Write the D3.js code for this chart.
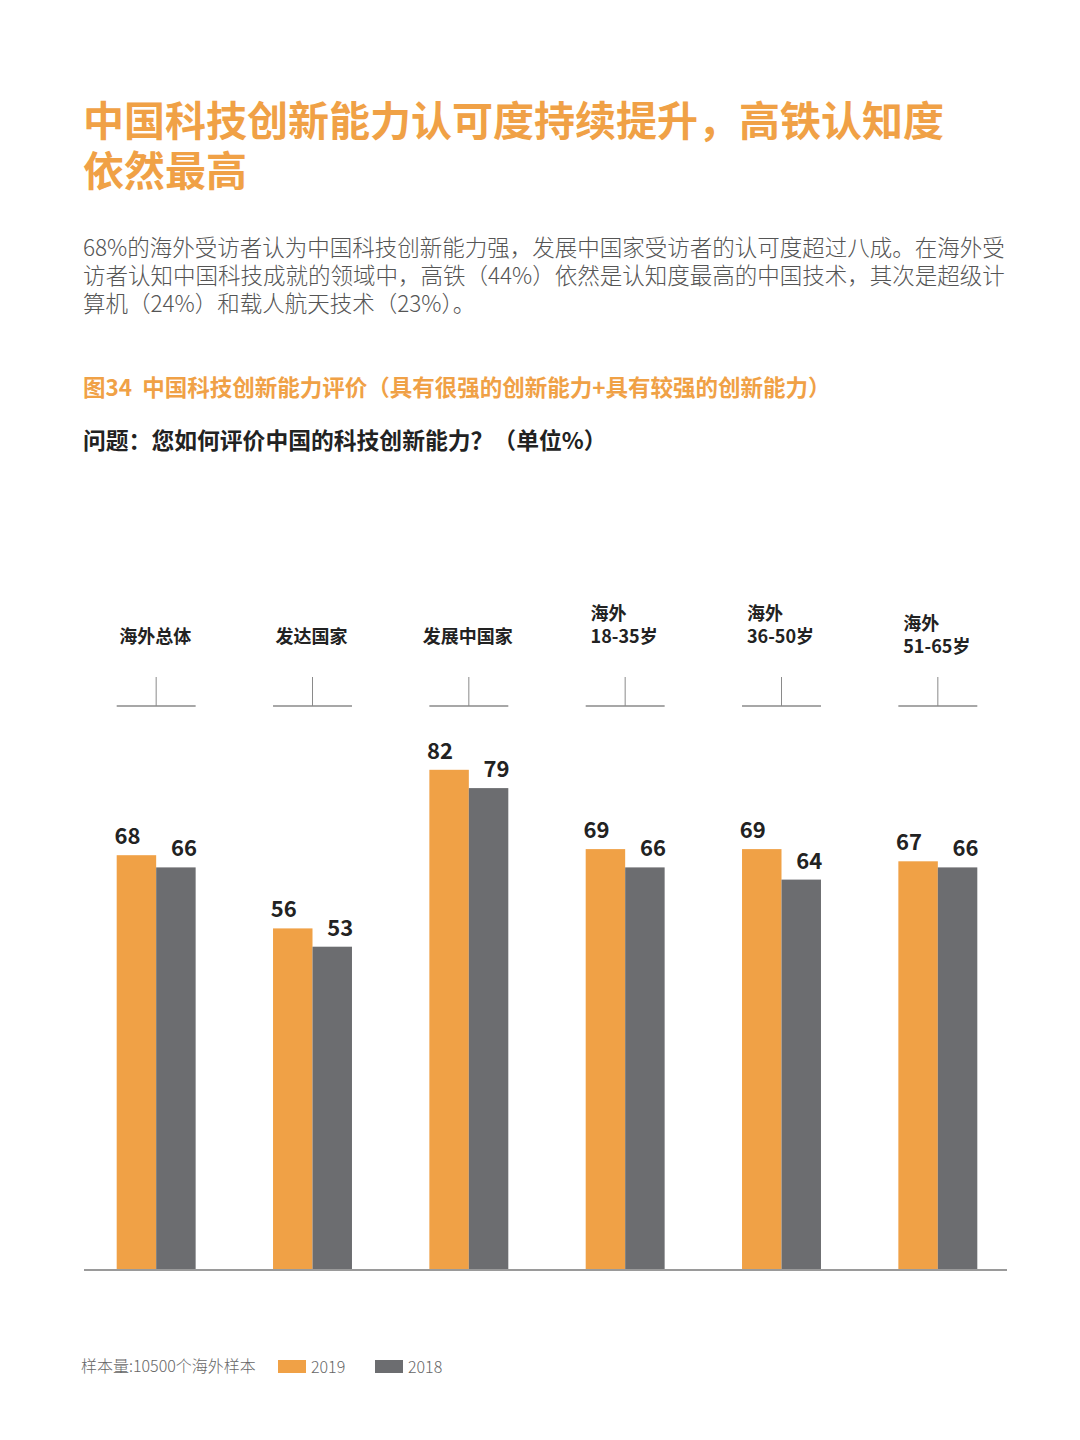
<!DOCTYPE html>
<meta charset="utf-8">
<style>
  body { margin: 0; background: #fff; }
  text { font-family: "Noto Sans CJK SC", "Noto Sans", sans-serif; }
</style>
<svg id="mysvg" width="1080" height="1440"></svg>
<script src="https://cdn.jsdelivr.net/npm/d3@7"></script>
<script>

var categories = [["海外总体"], ["发达国家"], ["发展中国家"], ["海外", "18-35岁"], ["海外", "36-50岁"], ["海外", "51-65岁"]];
var years = ["2019", "2018"];
var values2019 = [68, 56, 82, 69, 69, 67];
var values2018 = [66, 53, 79, 66, 64, 66];

var orange = "#f0a146";
var grey = "#6c6d70";

var svg = d3.select("#mysvg");

// heading
var title = ["中国科技创新能力认可度持续提升，高铁认知度", "依然最高"];
svg.selectAll(".title").data(title).enter().append("text")
	.attr("x", 83)
	.attr("y", function(d, i){ return 136 + i * 50; })
	.attr("fill", orange)
	.attr("font-size", 41)
	.attr("font-weight", 700)
	.text(function(d){ return d; });

var para = ["68%的海外受访者认为中国科技创新能力强，发展中国家受访者的认可度超过八成。在海外受",
	"访者认知中国科技成就的领域中，高铁（44%）依然是认知度最高的中国技术，其次是超级计",
	"算机（24%）和载人航天技术（23%）。"];
svg.selectAll(".para").data(para).enter().append("text")
	.attr("x", 83)
	.attr("y", function(d, i){ return 256 + i * 28; })
	.attr("fill", "#555")
	.attr("font-size", 22.5)
	.attr("font-weight", 300)
	.text(function(d){ return d; });

svg.append("text")
	.attr("x", 83).attr("y", 396)
	.attr("fill", orange)
	.attr("font-size", 22.5)
	.attr("font-weight", 700)
	.attr("xml:space", "preserve")
	.text("图34  中国科技创新能力评价（具有很强的创新能力+具有较强的创新能力）");

svg.append("text")
	.attr("x", 83).attr("y", 449)
	.attr("fill", "#222")
	.attr("font-size", 22.8)
	.attr("font-weight", 700)
	.text("问题：您如何评价中国的科技创新能力？（单位%）");

// chart
var idx = d3.range(categories.length);

var x0 = d3.scaleBand()
	.domain(idx)
	.range([78, 1016])
	.paddingInner(0.495)
	.paddingOuter(0.2475);

var x1 = d3.scaleBand()
	.domain(years)
	.range([0, x0.bandwidth()]);

var y = d3.scaleLinear()
	.domain([0, 100])
	.range([1270, 660]);

var color = d3.scaleOrdinal().domain(years).range([orange, grey]);

var rows = [];
idx.forEach(function(i){
	rows.push({i: i, year: "2019", v: values2019[i]});
	rows.push({i: i, year: "2018", v: values2018[i]});
});

svg.selectAll(".bar").data(rows).enter().append("rect")
	.attr("x", function(d){ return x0(d.i) + x1(d.year); })
	.attr("y", function(d){ return y(d.v); })
	.attr("width", x1.bandwidth())
	.attr("height", function(d){ return y(0) - y(d.v); })
	.attr("fill", function(d){ return color(d.year); });

svg.selectAll(".val").data(rows).enter().append("text")
	.attr("x", function(d){
		var c = x0(d.i) + x1(d.year) + x1.bandwidth() / 2;
		return d.year == "2019" ? c - 9 : c + 8;
	})
	.attr("y", function(d){ return y(d.v) - 11; })
	.attr("text-anchor", "middle")
	.attr("fill", "#222")
	.attr("font-size", 22)
	.attr("font-weight", 700)
	.text(function(d){ return d.v; });

// baseline
svg.append("line")
	.attr("x1", 84).attr("x2", 1007)
	.attr("y1", y(0)).attr("y2", y(0))
	.attr("stroke", "#9a9a9a")
	.attr("stroke-width", 2);

// category labels with little bracket marks
var groups = svg.selectAll(".cat").data(idx).enter().append("g");

groups.append("line")
	.attr("x1", function(i){ return x0(i); })
	.attr("x2", function(i){ return x0(i) + x0.bandwidth(); })
	.attr("y1", 706).attr("y2", 706)
	.attr("stroke", "#8a8a8a").attr("stroke-width", 1.5);

groups.append("line")
	.attr("x1", function(i){ return x0(i) + x0.bandwidth() / 2; })
	.attr("x2", function(i){ return x0(i) + x0.bandwidth() / 2; })
	.attr("y1", 677).attr("y2", 706)
	.attr("stroke", "#8a8a8a").attr("stroke-width", 1);

groups.each(function(i){
	var lines = categories[i];
	var base = lines.length == 1 ? 643 : (i == 5 ? 630 : 620);
	var t = d3.select(this).append("text")
		.attr("fill", "#222")
		.attr("font-size", 18)
		.attr("font-weight", 700);
	lines.forEach(function(s, k){
		t.append("tspan").attr("y", base + k * 23).text(s);
	});
	var w = 0;
	t.selectAll("tspan").each(function(){ w = Math.max(w, this.getComputedTextLength()); });
	var left = x0(i) + x0.bandwidth() / 2 - w / 2 - 1;
	t.selectAll("tspan").attr("x", left);
});

// footer + legend
svg.append("text")
	.attr("x", 81).attr("y", 1372)
	.attr("fill", "#666")
	.attr("font-size", 16)
	.attr("font-weight", 300)
	.text("样本量:10500个海外样本");

var legend = svg.selectAll(".leg").data(years).enter().append("g")
	.attr("transform", function(d, i){ return "translate(" + (278 + i * 97) + ",1360)"; });

legend.append("rect")
	.attr("width", 28).attr("height", 13)
	.attr("fill", function(d){ return color(d); });

legend.append("text")
	.attr("x", 33).attr("y", 12.5)
	.attr("fill", "#666")
	.attr("font-size", 16)
	.attr("font-weight", 300)
	.text(function(d){ return d; });

</script>
